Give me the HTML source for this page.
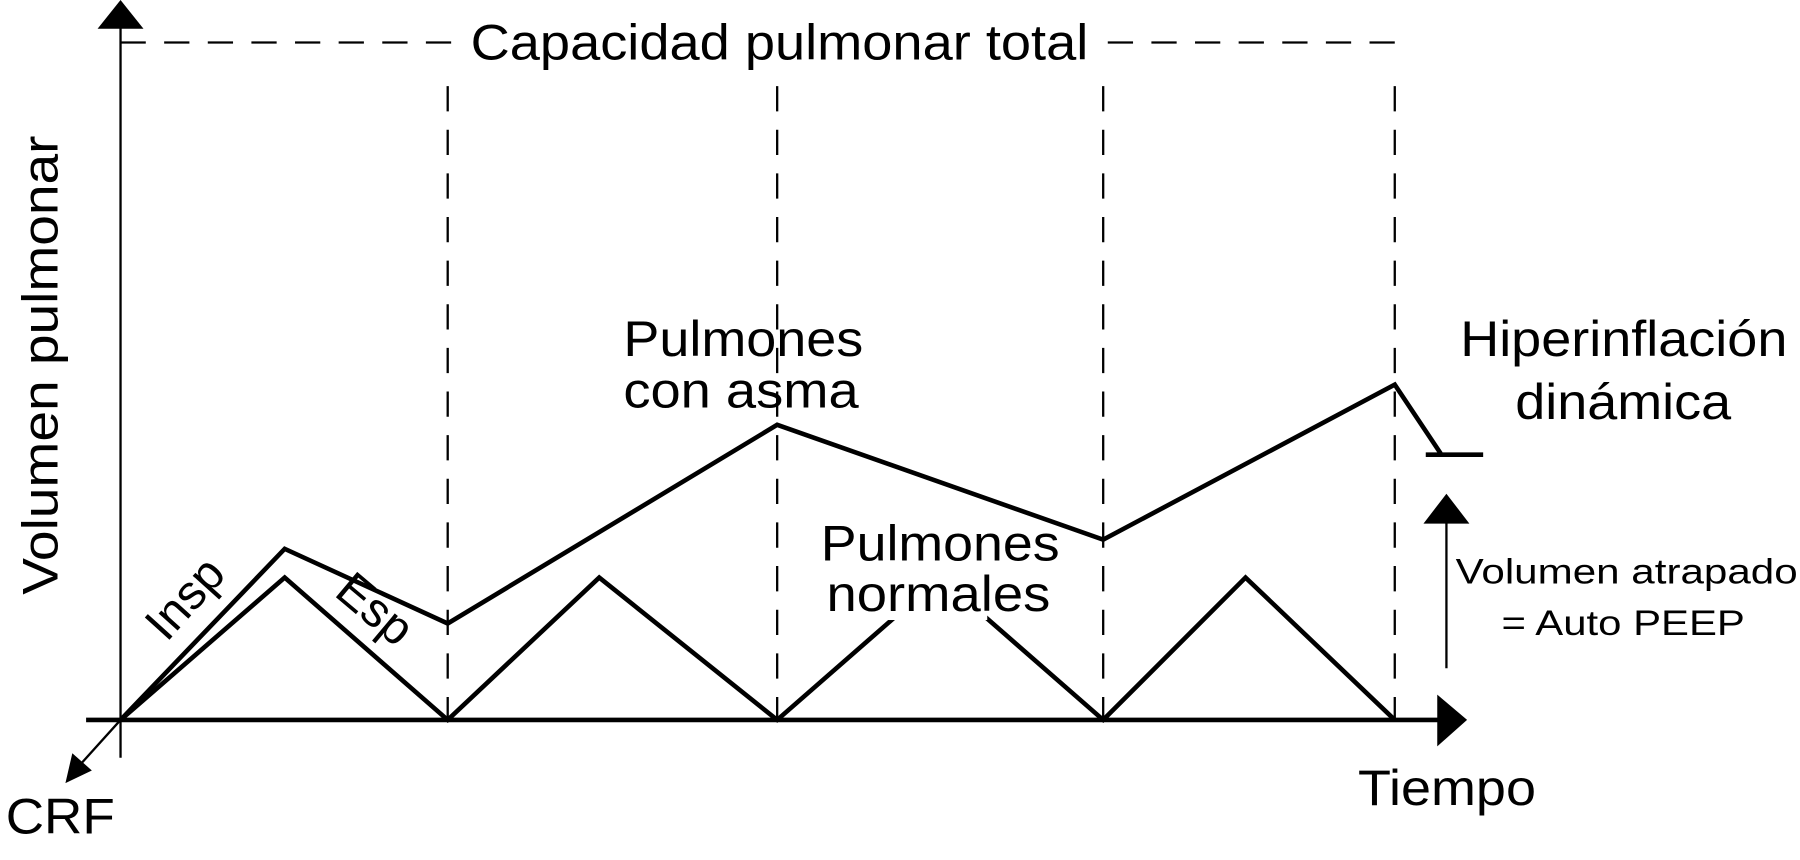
<!DOCTYPE html>
<html><head><meta charset="utf-8"><style>
html,body{margin:0;padding:0;background:#fff;width:1800px;height:860px;overflow:hidden}
svg{display:block}
text{font-family:"Liberation Sans",sans-serif;fill:#000}
</style></head><body>
<svg width="1800" height="860" viewBox="0 0 1568 749" preserveAspectRatio="none">
<g stroke="#000" fill="none">
<line x1="105" y1="660" x2="105" y2="20" stroke-width="2"/>
<line x1="75" y1="627" x2="1255" y2="627" stroke-width="4"/>
<line x1="105" y1="627" x2="68" y2="668" stroke-width="2"/>
<g stroke-width="2" stroke-dasharray="22,16">
<line x1="105" y1="37" x2="395" y2="37"/>
<line x1="1215" y1="37" x2="962" y2="37"/>
<line x1="390" y1="75" x2="390" y2="627"/>
<line x1="677" y1="75" x2="677" y2="627"/>
<line x1="961" y1="75" x2="961" y2="627"/>
<line x1="1215" y1="75" x2="1215" y2="627"/>
</g>
<polyline points="105,627 248,503 390,627 522,503 677,627 819,503 961,627 1085,503 1215,627" stroke-width="4"/>
<polyline points="105,627 248,478 390,543 677,370 961,470 1215,335 1255,395" stroke-width="4"/>
<line x1="1242" y1="396" x2="1292" y2="396" stroke-width="4"/>
<line x1="1260" y1="582" x2="1260" y2="450" stroke-width="2"/>
</g>
<g fill="#000">
<polygon points="105,0 85,25 125,25"/>
<polygon points="1278,627 1252,605 1252,650"/>
<polygon points="57,682 63,656 80,671"/>
<polygon points="1260,430 1240,456 1280,456"/>
</g>
<rect x="760" y="495" width="100" height="45" fill="#fff"/>
<rect x="402" y="10" width="555" height="55" fill="#fff"/>
<text x="410" y="52" font-size="44" textLength="538" lengthAdjust="spacingAndGlyphs">Capacidad pulmonar total</text>
<text transform="translate(50,518) rotate(-90)" font-size="44" textLength="400" lengthAdjust="spacingAndGlyphs">Volumen pulmonar</text>
<text x="543" y="310" font-size="44" textLength="209" lengthAdjust="spacingAndGlyphs">Pulmones</text>
<text x="543" y="355" font-size="44" textLength="205" lengthAdjust="spacingAndGlyphs">con asma</text>
<text x="715" y="488" font-size="44" textLength="208" lengthAdjust="spacingAndGlyphs">Pulmones</text>
<text x="720" y="532" font-size="44" textLength="195" lengthAdjust="spacingAndGlyphs">normales</text>
<text x="1272" y="310" font-size="44" textLength="285" lengthAdjust="spacingAndGlyphs">Hiperinflación</text>
<text x="1320" y="365" font-size="44" textLength="188" lengthAdjust="spacingAndGlyphs">dinámica</text>
<text x="1268" y="508" font-size="31" textLength="298" lengthAdjust="spacingAndGlyphs">Volumen atrapado</text>
<text x="1308" y="553" font-size="31" textLength="212" lengthAdjust="spacingAndGlyphs">= Auto PEEP</text>
<text x="1183" y="701" font-size="44" textLength="155" lengthAdjust="spacingAndGlyphs">Tiempo</text>
<text x="5" y="726" font-size="44" textLength="95" lengthAdjust="spacingAndGlyphs">CRF</text>
<text transform="translate(145,560) rotate(-48)" font-size="42">Insp</text>
<text transform="translate(290,518) rotate(40)" font-size="42">Esp</text>
</svg>
</body></html>
